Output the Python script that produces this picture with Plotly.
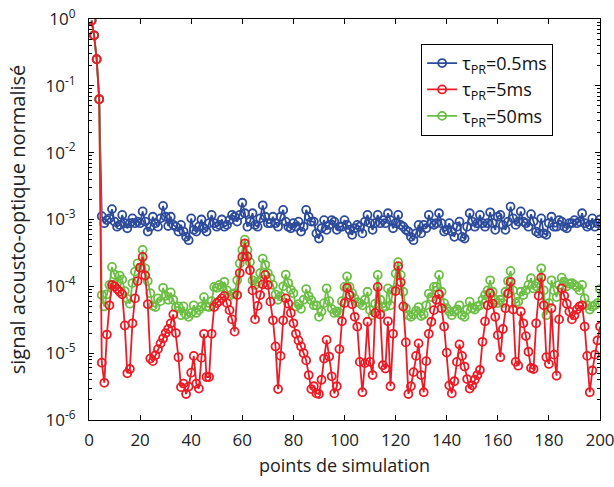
import plotly.graph_objects as go

x = list(range(1, 201))

head = [0.95, 0.57, 0.25, 0.063]

red = head + [
    7.2e-6, 3.6e-6, 1.9e-5, 5.2e-5, 1.05e-4, 1.0e-4, 9.1e-5, 8.3e-5, 7.6e-5, 2.6e-5,
    5.0e-6, 5.8e-6, 2.8e-5, 6.6e-5, 1.2e-4, 1.9e-4, 2.75e-4, 1.45e-4, 5.4e-5, 8.3e-6,
    7.6e-6, 9.3e-6, 1.15e-5, 1.4e-5, 1.66e-5, 2.0e-5, 2.3e-5, 2.8e-5, 3.8e-5, 2.0e-5,
    8.7e-6, 3.1e-6, 3.5e-6, 2.45e-6, 3.16e-6, 5.1e-6, 9.1e-6, 3.5e-6, 2.95e-6, 8.5e-6,
    1.95e-5, 4.4e-6, 4.4e-6, 1.95e-5, 4.9e-5, 5.6e-5, 6.0e-5, 6.6e-5, 7.2e-5, 5.6e-5,
    4.4e-5, 3.2e-5, 2.1e-5, 7.4e-5, 1.58e-4, 2.75e-4, 4.4e-4, 2.8e-4, 1.74e-4, 8.7e-5,
    3.2e-5, 5.1e-5, 7.4e-5, 1.07e-4, 1.48e-4, 1.05e-4, 5.9e-5, 3.1e-5, 1.26e-5, 2.9e-6,
    9.1e-6, 3.1e-5, 6.6e-5, 5.5e-5, 4.0e-5, 2.8e-5, 1.95e-5, 1.55e-5, 1.26e-5, 1.0e-5,
    7.8e-6, 4.7e-6, 2.9e-6, 3.2e-6, 2.5e-6, 2.45e-6, 4.0e-6, 8.3e-6, 1.58e-5, 8.9e-6,
    4.5e-6, 2.5e-6, 3.2e-6, 1.15e-5, 3.0e-5, 5.6e-5, 9.5e-5, 7.4e-5, 5.4e-5, 3.5e-5,
    2.5e-5, 7.4e-6, 2.6e-6, 7.1e-6, 2.95e-5, 7.4e-6, 4.7e-6, 4.0e-5, 9.8e-5, 3.8e-5,
    6.6e-6, 5.9e-6, 3.0e-5, 3.2e-6, 1.95e-5, 8.5e-5, 2.0e-4, 1.15e-4, 5.0e-5, 1.45e-5,
    2.45e-6, 3.2e-6, 5.2e-6, 9.1e-6, 1.4e-5, 4.7e-6, 2.6e-6, 7.6e-6, 1.95e-5, 2.95e-5,
    4.4e-5, 6.3e-5, 7.6e-5, 4.7e-5, 2.5e-5, 1.02e-5, 3.3e-6, 2.5e-6, 3.8e-6, 7.4e-6,
    1.35e-5, 9.1e-6, 6.3e-6, 4.1e-6, 2.95e-6, 3.3e-6, 4.0e-6, 4.7e-6, 5.6e-6, 1.48e-5,
    3.0e-5, 5.2e-5, 7.9e-5, 5.5e-5, 3.5e-5, 1.86e-5, 8.7e-6, 2.3e-5, 4.7e-5, 7.8e-5,
    1.17e-4, 4.5e-5, 7.4e-6, 6.5e-6, 4.2e-5, 2.8e-5, 1.8e-5, 1.05e-5, 6.0e-6, 5.8e-6,
    2.8e-5, 7.2e-5, 1.35e-4, 5.2e-5, 8.7e-6, 6.9e-6, 4.7e-5, 9.5e-6, 4.6e-6, 3.2e-5,
    9.3e-5, 7.2e-5, 5.5e-5, 4.2e-5, 3.2e-5, 3.7e-5, 4.5e-5, 5.0e-5, 5.2e-5, 2.5e-5,
    9.1e-6, 2.6e-6, 5.5e-6, 9.5e-6, 1.55e-5, 2.5e-5,
]

blue = head + [
    1.12e-3, 8.8e-4, 9.8e-4, 1.04e-3, 1.43e-3, 9.3e-4, 7.8e-4, 8.3e-4, 1.17e-3, 8.8e-4,
    7.4e-4, 8.8e-4, 1.04e-3, 8.8e-4, 9.3e-4, 8.8e-4, 1.32e-3, 9.3e-4, 6.6e-4, 7.8e-4,
    1.1e-3, 8.8e-4, 7.8e-4, 1.04e-3, 1.6e-3, 1.1e-3, 8.0e-4, 1.1e-3, 8.3e-4, 7.8e-4,
    6.6e-4, 8.3e-4, 6.6e-4, 5.5e-4, 4.9e-4, 1.04e-3, 7.0e-4, 6.6e-4, 7.8e-4, 1.0e-3,
    7.4e-4, 6.6e-4, 8.8e-4, 1.17e-3, 8.8e-4, 7.8e-4, 8.3e-4, 1.0e-3, 7.8e-4, 8.3e-4,
    9.8e-4, 1.17e-3, 1.1e-3, 9.3e-4, 1.17e-3, 1.78e-3, 1.24e-3, 7.8e-4, 9.3e-4, 1.24e-3,
    8.3e-4, 7.8e-4, 1.04e-3, 1.63e-3, 1.1e-3, 8.8e-4, 8.8e-4, 1.1e-3, 8.8e-4, 7.8e-4,
    1.1e-3, 1.39e-3, 9.3e-4, 7.8e-4, 7.4e-4, 8.8e-4, 7.8e-4, 9.3e-4, 6.6e-4, 7.8e-4,
    1.39e-3, 1.1e-3, 9.3e-4, 9.3e-4, 6.2e-4, 5.2e-4, 7.4e-4, 9.8e-4, 7.0e-4, 8.3e-4,
    9.8e-4, 9.3e-4, 7.0e-4, 7.8e-4, 7.8e-4, 9.8e-4, 8.3e-4, 7.0e-4, 5.9e-4, 7.4e-4,
    8.3e-4, 7.8e-4, 6.2e-4, 9.3e-4, 1.17e-3, 8.8e-4, 7.0e-4, 8.8e-4, 1.17e-3, 8.8e-4,
    9.8e-4, 8.8e-4, 1.24e-3, 9.8e-4, 7.4e-4, 8.8e-4, 1.17e-3, 8.3e-4, 7.8e-4, 7.0e-4,
    6.6e-4, 5.5e-4, 4.9e-4, 6.2e-4, 8.3e-4, 6.2e-4, 8.3e-4, 7.4e-4, 1.17e-3, 8.8e-4,
    8.3e-4, 8.8e-4, 1.24e-3, 8.8e-4, 6.6e-4, 7.0e-4, 8.8e-4, 6.6e-4, 5.5e-4, 7.8e-4,
    9.3e-4, 5.5e-4, 5.2e-4, 7.8e-4, 1.24e-3, 9.3e-4, 7.8e-4, 8.8e-4, 1.17e-3, 8.8e-4,
    7.8e-4, 8.8e-4, 1.28e-3, 8.8e-4, 7.0e-4, 1.1e-3, 1.17e-3, 8.3e-4, 7.0e-4, 9.3e-4,
    1.56e-3, 1.04e-3, 8.3e-4, 9.3e-4, 1.32e-3, 9.3e-4, 8.8e-4, 7.8e-4, 1.2e-3, 9.3e-4,
    6.6e-4, 6.2e-4, 1.04e-3, 6.2e-4, 5.9e-4, 8.8e-4, 1.1e-3, 7.8e-4, 7.8e-4, 9.8e-4,
    9.3e-4, 7.8e-4, 7.4e-4, 8.8e-4, 8.8e-4, 9.8e-4, 8.8e-4, 9.3e-4, 1.24e-3, 8.8e-4,
    7.8e-4, 8.3e-4, 1.04e-3, 7.8e-4, 8.8e-4, 1.0e-3,
]

green = head + [
    7.4e-5, 5.0e-5, 7.6e-5, 1.05e-4, 1.95e-4, 1.5e-4, 1.12e-4, 1.45e-4, 1.26e-4, 8.5e-5,
    6.5e-5, 5.5e-5, 1.12e-4, 1.66e-4, 2.2e-4, 1.9e-4, 3.5e-4, 1.86e-4, 1.2e-4, 7.9e-5,
    5.1e-5, 4.9e-5, 6.6e-5, 6.0e-5, 9.5e-5, 7.2e-5, 6.3e-5, 8.1e-5, 6.3e-5, 4.8e-5,
    5.0e-5, 3.7e-5, 5.0e-5, 3.8e-5, 3.5e-5, 4.0e-5, 5.2e-5, 4.0e-5, 4.4e-5, 5.0e-5,
    6.9e-5, 5.0e-5, 4.9e-5, 6.0e-5, 9.8e-5, 9.5e-5, 1.05e-4, 9.8e-5, 1.17e-4, 8.7e-5,
    7.2e-5, 7.6e-5, 7.9e-5, 1.23e-4, 2.2e-4, 3.5e-4, 5.0e-4, 3.5e-4, 2.3e-4, 1.23e-4,
    1.05e-4, 1.17e-4, 1.58e-4, 2.6e-4, 2.1e-4, 1.58e-4, 1.32e-4, 1.05e-4, 7.6e-5, 6.3e-5,
    7.1e-5, 1.0e-4, 1.5e-4, 1.12e-4, 8.9e-5, 7.9e-5, 5.0e-5, 5.4e-5, 4.6e-5, 6.3e-5,
    9.1e-5, 7.1e-5, 6.2e-5, 5.2e-5, 5.2e-5, 3.5e-5, 4.2e-5, 5.6e-5, 9.3e-5, 6.0e-5,
    4.6e-5, 4.0e-5, 4.2e-5, 4.0e-5, 6.0e-5, 9.8e-5, 1.41e-4, 9.8e-5, 7.9e-5, 6.6e-5,
    5.8e-5, 5.6e-5, 5.2e-5, 6.3e-5, 8.3e-5, 4.4e-5, 3.7e-5, 5.5e-5, 1.48e-4, 6.3e-5,
    4.8e-5, 5.0e-5, 9.3e-5, 5.2e-5, 8.7e-5, 1.55e-4, 2.3e-4, 1.48e-4, 8.3e-5, 4.7e-5,
    3.7e-5, 3.5e-5, 3.8e-5, 4.3e-5, 4.9e-5, 3.6e-5, 3.8e-5, 5.2e-5, 7.8e-5, 6.9e-5,
    9.8e-5, 9.8e-5, 1.48e-4, 8.3e-5, 5.6e-5, 4.7e-5, 4.2e-5, 3.7e-5, 4.2e-5, 4.5e-5,
    5.2e-5, 3.7e-5, 3.5e-5, 4.5e-5, 5.9e-5, 4.7e-5, 4.5e-5, 5.0e-5, 5.2e-5, 6.3e-5,
    7.4e-5, 8.7e-5, 1.23e-4, 8.3e-5, 6.3e-5, 5.6e-5, 6.3e-5, 5.6e-5, 8.3e-5, 1.2e-4,
    1.7e-4, 8.7e-5, 5.6e-5, 5.9e-5, 8.3e-5, 7.4e-5, 8.7e-5, 1.05e-4, 1.32e-4, 9.3e-5,
    1.0e-4, 1.12e-4, 1.86e-4, 8.7e-5, 3.7e-5, 5.6e-5, 1.23e-4, 8.7e-5, 6.9e-5, 1.05e-4,
    1.35e-4, 1.17e-4, 1.0e-4, 1.1e-4, 1.12e-4, 1.05e-4, 9.8e-5, 8.7e-5, 1.05e-4, 6.6e-5,
    5.2e-5, 4.5e-5, 5.0e-5, 5.2e-5, 5.6e-5, 9.1e-5,
]

names = ["τ<sub>PR</sub>=0.5ms", "τ<sub>PR</sub>=5ms", "τ<sub>PR</sub>=50ms"]
colors = ["#2d4b9b", "#ec1c26", "#6cbf45"]

y_tickvals = [1e-6, 1e-5, 1e-4, 1e-3, 1e-2, 1e-1, 1]
y_ticktext = ["10<sup>-6</sup>", "10<sup>-5</sup>", "10<sup>-4</sup>", "10<sup>-3</sup>",
              "10<sup>-2</sup>", "10<sup>-1</sup>", "10<sup>0</sup>"]
y_minor = [m * 10.0 ** e for e in range(-6, 0) for m in range(2, 10)]

fig = go.Figure()
order = [(0, blue), (2, green), (1, red)]
for i, ys in order:
    fig.add_trace(go.Scatter(
        x=x, y=ys, mode="lines+markers", name=names[i], legendrank=i + 1,
        line=dict(color=colors[i], width=1.8),
        marker=dict(symbol="circle-open", size=8, color=colors[i], line=dict(width=1.8)),
    ))

font_family = "Open Sans, Lato, sans-serif"
fig.update_layout(
    width=614, height=487,
    margin=dict(l=89, r=14, t=19, b=67),
    plot_bgcolor="white", paper_bgcolor="white",
    font=dict(family=font_family, size=16, color="#222"),
    showlegend=True,
    legend=dict(
        x=0.650, y=0.938, xanchor="left", yanchor="top",
        bgcolor="white", bordercolor="black", borderwidth=1,
        font=dict(size=18, color="#111"), tracegroupgap=0,
        itemwidth=30,
    ),
)
fig.update_xaxes(
    range=[0, 200], tickmode="array", tickvals=list(range(0, 201, 20)),
    ticks="inside", ticklen=5, tickcolor="black", mirror="ticks",
    showline=True, linecolor="black", linewidth=1, showgrid=False, zeroline=False,
    automargin=False, tickfont=dict(size=17), ticklabelstandoff=5,
    ticklabeloverflow="allow",
    title=dict(text="points de simulation", font=dict(size=18), standoff=8),
)
fig.update_yaxes(
    type="log", range=[-6, 0], tickmode="array", tickvals=y_tickvals, ticktext=y_ticktext,
    ticks="inside", ticklen=5, tickcolor="black", mirror="ticks",
    showline=True, linecolor="black", linewidth=1, showgrid=False, zeroline=False,
    automargin=False, tickfont=dict(size=17), ticklabelstandoff=9,
    ticklabeloverflow="allow",
    minor=dict(tickmode="array", tickvals=y_minor, ticks="inside", ticklen=3,
               tickcolor="black", showgrid=False),
    title=dict(text="signal acousto-optique normalisé", font=dict(size=20), standoff=14),
)

fig.write_html(
    "out.html",
    config={"displayModeBar": False},
    post_script="document.body.style.margin='0px';",
)
